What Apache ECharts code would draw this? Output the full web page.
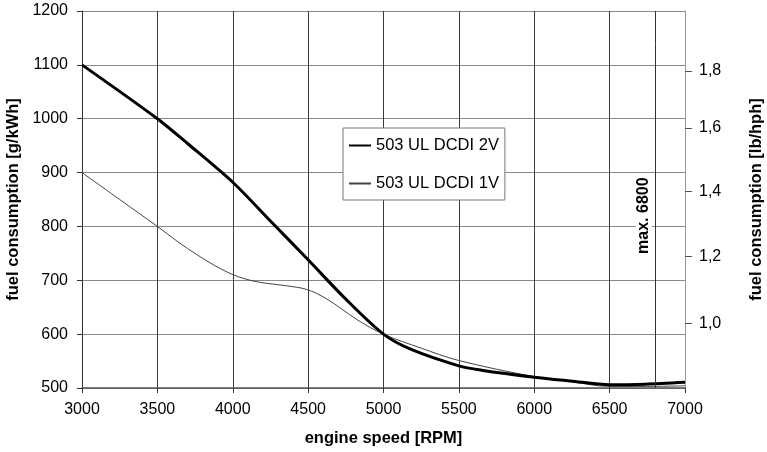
<!DOCTYPE html>
<html>
<head>
<meta charset="utf-8">
<script src="https://cdn.jsdelivr.net/npm/echarts@6/dist/echarts.min.js"></script>
<style>
  html, body { margin: 0; padding: 0; background: #fff; }
  #chart { width: 767px; height: 452px; }
</style>
</head>
<body>
<div id="chart"></div>
<script>
// Engine speed [RPM] and specific fuel consumption [g/kWh] per variant
const rpm2V = [3000, 3500, 3700, 4000, 4250, 4500, 4750, 5000, 5180, 5500, 5650, 6000, 6240, 6500, 6735, 7000];
const fuel2V = [1100, 1000, 954, 882, 810, 738, 665, 600, 572, 541, 533, 520, 513, 506, 507, 510.5];

const rpm1V = [3000, 3250, 3500, 3700, 3950, 4130, 4350, 4490, 4620, 4830, 5000, 5250, 5500, 6000, 6240, 6500, 6735, 7000];
const fuel1V = [900, 850, 800, 759, 717, 699, 690, 683, 666, 626, 600, 574, 551, 521, 512, 503, 503, 504];

const seriesNames = ['503 UL DCDI 2V', '503 UL DCDI 1V'];

// Secondary scale: lb/hph tick labels and where they sit on the g/kWh scale
const lbTickLabels = ['1,0', '1,2', '1,4', '1,6', '1,8'];
const lbTickAt = [620, 744, 865, 983, 1089];

const maxRpm = 6800;
const maxLabel = 'max. 6800';

const FONT = '"Liberation Sans", Arial, sans-serif';

const pairs = (xs, ys) => xs.map((x, i) => [x, ys[i]]);
const plain = (v) => String(v);

const titleStyle = { fontFamily: FONT, fontSize: 16.5, fontWeight: 'bold', color: '#000' };

const chart = echarts.init(document.getElementById('chart'), null, { renderer: 'canvas' });

chart.setOption({
  animation: false,
  backgroundColor: '#fff',
  textStyle: { fontFamily: FONT, color: '#000' },
  grid: { left: 82, right: 82, top: 11, bottom: 64, containLabel: false, outerBoundsMode: 'none' },
  legend: {
    orient: 'vertical',
    left: 343,
    top: 128,
    data: seriesNames,
    backgroundColor: '#fff',
    borderColor: '#777',
    borderWidth: 1,
    borderRadius: 0,
    padding: [9, 6, 8, 5],
    itemGap: 21,
    itemWidth: 22,
    itemHeight: 16,
    itemStyle: { opacity: 0 },
    textStyle: { fontFamily: FONT, fontSize: 16.5, color: '#000' }
  },
  xAxis: {
    type: 'value',
    min: 3000,
    max: 7000,
    interval: 500,
    name: 'engine speed [RPM]',
    nameLocation: 'middle',
    nameGap: 42,
    nameTextStyle: titleStyle,
    axisLine: { show: true, lineStyle: { color: '#555', width: 1.5 } },
    axisTick: { show: true, inside: false, length: 5, lineStyle: { color: '#333' } },
    axisLabel: { fontFamily: FONT, fontSize: 16, color: '#000', margin: 14, formatter: plain },
    splitLine: { show: true, lineStyle: { color: '#3a3a3a', width: 1 } }
  },
  yAxis: [
    {
      type: 'value',
      min: 500,
      max: 1200,
      interval: 100,
      name: 'fuel consumption [g/kWh]',
      nameLocation: 'middle',
      nameRotate: 90,
      nameGap: 56,
      nameTextStyle: titleStyle,
      axisLine: { show: true, lineStyle: { color: '#333', width: 1 } },
      axisTick: { show: true, inside: false, length: 5, lineStyle: { color: '#333' } },
      axisLabel: { fontFamily: FONT, fontSize: 16, color: '#000', margin: 14, formatter: plain },
      splitLine: { show: true, lineStyle: { color: '#8a8a8a', width: 1 } }
    },
    {
      type: 'value',
      position: 'right',
      min: 500,
      max: 1200,
      name: 'fuel consumption [lb/hph]',
      nameLocation: 'middle',
      nameRotate: 90,
      nameGap: 63,
      nameTextStyle: titleStyle,
      axisLine: { show: true, lineStyle: { color: '#999', width: 1 } },
      axisTick: { show: true, inside: false, length: 7, customValues: lbTickAt, lineStyle: { color: '#555' } },
      axisLabel: {
        fontFamily: FONT, fontSize: 16, color: '#000', margin: 14,
        customValues: lbTickAt,
        formatter: (v) => {
          const i = lbTickAt.indexOf(v);
          return i >= 0 ? lbTickLabels[i] : '';
        }
      },
      splitLine: { show: false }
    }
  ],
  series: [
    {
      name: seriesNames[0],
      type: 'line',
      data: pairs(rpm2V, fuel2V),
      smooth: 0.3,
      symbol: 'none',
      lineStyle: { color: '#000', width: 3 },
      itemStyle: { color: '#000' },
      z: 3
    },
    {
      name: seriesNames[1],
      type: 'line',
      data: pairs(rpm1V, fuel1V),
      smooth: 0.35,
      symbol: 'none',
      lineStyle: { color: '#444', width: 1 },
      itemStyle: { color: '#444' },
      z: 2,
      markLine: {
        silent: true,
        symbol: 'none',
        lineStyle: { color: '#333', width: 1, type: 'solid' },
        data: [
          [
            { coord: [maxRpm, 500] },
            { coord: [maxRpm, 1140] }
          ],
          [
            { coord: [maxRpm, 1140], label: { show: false } },
            { coord: [maxRpm, 1200] }
          ]
        ],
        label: {
          show: true,
          formatter: maxLabel,
          position: 'insideMiddleTop',
          distance: 3,
          fontFamily: FONT,
          fontSize: 16,
          fontWeight: 'bold',
          color: '#000',
          backgroundColor: '#fff',
          padding: [0, 3, 0, 3]
        }
      }
    }
  ]
});
</script>
</body>
</html>
